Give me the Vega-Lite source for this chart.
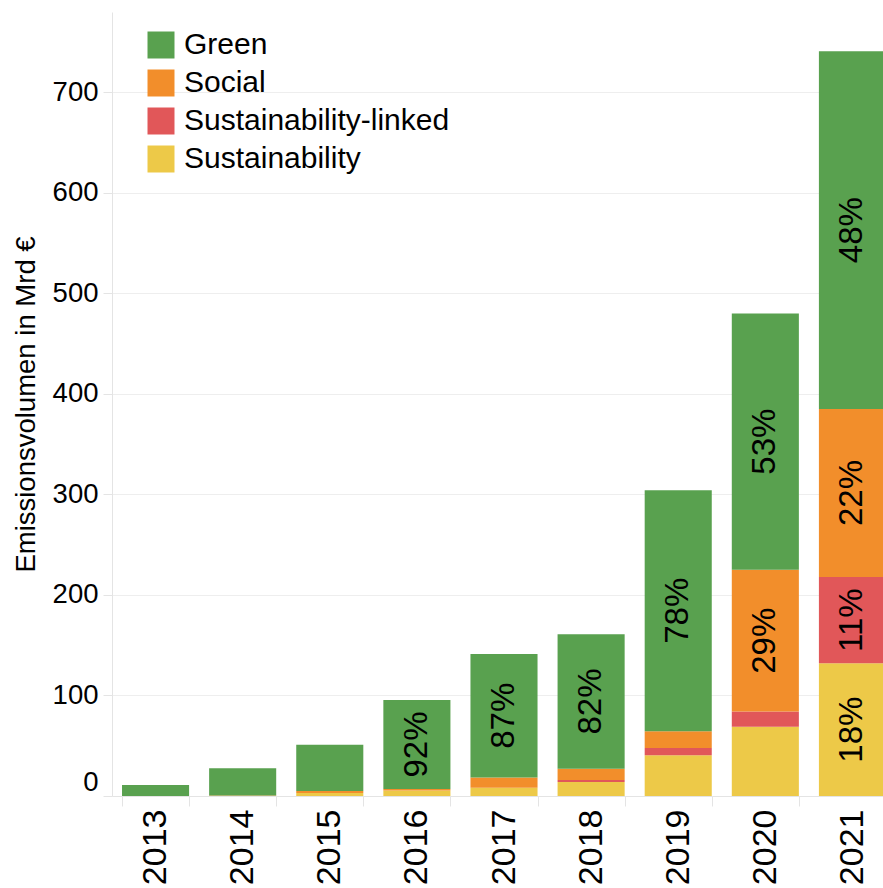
{
  "$schema": "https://vega.github.io/schema/vega-lite/v6.json",
  "width": 771,
  "height": 784,
  "autosize": {"type": "none"},
  "padding": {"left": 112, "top": 12, "right": 0, "bottom": 92},
  "config": {
    "font": "Liberation Sans",
    "view": {"stroke": null},
    "axis": {"labelColor": "#000000", "titleColor": "#000000"}
  },
  "datasets": {
    "categories": [
      {"type": "Sustainability", "rank": 1},
      {"type": "Sustainability-linked", "rank": 2},
      {"type": "Social", "rank": 3},
      {"type": "Green", "rank": 4}
    ]
  },
  "data": {
    "values": [
      {"year": "2013", "type": "Green", "value": 11, "label": ""},
      {"year": "2014", "type": "Social", "value": 0.5, "label": ""},
      {"year": "2014", "type": "Green", "value": 27, "label": ""},
      {"year": "2015", "type": "Sustainability", "value": 3, "label": ""},
      {"year": "2015", "type": "Social", "value": 2, "label": ""},
      {"year": "2015", "type": "Green", "value": 46, "label": ""},
      {"year": "2016", "type": "Sustainability", "value": 5.5, "label": ""},
      {"year": "2016", "type": "Social", "value": 1.5, "label": ""},
      {"year": "2016", "type": "Green", "value": 88.5, "label": "92%"},
      {"year": "2017", "type": "Sustainability", "value": 8.3, "label": ""},
      {"year": "2017", "type": "Social", "value": 10, "label": ""},
      {"year": "2017", "type": "Green", "value": 123, "label": "87%"},
      {"year": "2018", "type": "Sustainability", "value": 14, "label": ""},
      {"year": "2018", "type": "Sustainability-linked", "value": 2, "label": ""},
      {"year": "2018", "type": "Social", "value": 11, "label": ""},
      {"year": "2018", "type": "Green", "value": 134, "label": "82%"},
      {"year": "2019", "type": "Sustainability", "value": 40.5, "label": ""},
      {"year": "2019", "type": "Sustainability-linked", "value": 7.3, "label": ""},
      {"year": "2019", "type": "Social", "value": 16.5, "label": ""},
      {"year": "2019", "type": "Green", "value": 240, "label": "78%"},
      {"year": "2020", "type": "Sustainability", "value": 69, "label": ""},
      {"year": "2020", "type": "Sustainability-linked", "value": 15, "label": ""},
      {"year": "2020", "type": "Social", "value": 141, "label": "29%"},
      {"year": "2020", "type": "Green", "value": 255, "label": "53%"},
      {"year": "2021", "type": "Sustainability", "value": 132, "label": "18%"},
      {"year": "2021", "type": "Sustainability-linked", "value": 86, "label": "11%"},
      {"year": "2021", "type": "Social", "value": 167, "label": "22%"},
      {"year": "2021", "type": "Green", "value": 356, "label": "48%"}
    ]
  },
  "transform": [
    {"lookup": "type", "from": {"data": {"name": "categories"}, "key": "type", "fields": ["rank"]}}
  ],
  "encoding": {
    "x": {
      "field": "year",
      "type": "ordinal",
      "scale": {"range": [0, 784], "paddingInner": 0.23, "paddingOuter": 0.115},
      "axis": {
        "title": null,
        "labelAngle": 270,
        "labelFontSize": 34,
        "labelPadding": 3,
        "tickBand": "extent",
        "tickSize": 10,
        "tickColor": "#e4e4e4",
        "domainColor": "#e4e4e4",
        "grid": false
      }
    },
    "y": {
      "field": "value",
      "type": "quantitative",
      "stack": "zero",
      "scale": {"domain": [0, 780], "nice": false},
      "axis": {
        "title": "Emissionsvolumen in Mrd €",
        "titleFontSize": 27.5,
        "titleFontWeight": "normal",
        "titlePadding": 12,
        "labelFontSize": 27.5,
        "labelPadding": 5,
        "labelFlush": true,
        "values": [0, 100, 200, 300, 400, 500, 600, 700],
        "tickSize": 9,
        "tickColor": "#e4e4e4",
        "domainColor": "#e4e4e4",
        "gridColor": "#eeeeee"
      }
    },
    "order": {"field": "rank", "type": "quantitative", "sort": "ascending"}
  },
  "layer": [
    {
      "mark": {"type": "bar"},
      "encoding": {
        "color": {
          "field": "type",
          "type": "nominal",
          "scale": {
            "domain": ["Green", "Social", "Sustainability-linked", "Sustainability"],
            "range": ["#59a14f", "#f28e2b", "#e15759", "#edc948"]
          },
          "legend": {
            "title": null,
            "orient": "none",
            "legendX": 34,
            "legendY": 18,
            "symbolType": "square",
            "symbolSize": 729,
            "symbolStrokeWidth": 0,
            "symbolOpacity": 1,
            "labelFontSize": 30,
            "labelColor": "#000000",
            "labelOffset": 8,
            "rowPadding": 8,
            "padding": 0,
            "labelLimit": 400
          }
        }
      }
    },
    {
      "mark": {"type": "text", "angle": 270, "fontSize": 33, "align": "center", "baseline": "middle", "color": "#000000"},
      "encoding": {
        "y": {"field": "value", "type": "quantitative", "stack": "zero", "bandPosition": 0.5},
        "text": {"field": "label"}
      }
    }
  ]
}
